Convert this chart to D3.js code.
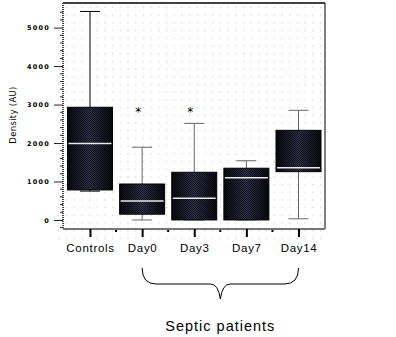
<!DOCTYPE html>
<html><head><meta charset="utf-8">
<script src="https://cdn.jsdelivr.net/npm/d3@7"></script>
<style>body{margin:0;background:#fff}svg{display:block}</style>
</head><body>
<svg id="c" width="396" height="337"></svg>
<script>
const categories = ["Controls","Day0","Day3","Day7","Day14"];
const whiskerLow  = [750, 0, 0, 0, 30];
const q1          = [780, 150, 0, 0, 1255];
const medians     = [1990, 490, 565, 1100, 1360];
const q3          = [2930, 935, 1240, 1345, 2330];
const whiskerHigh = [5420, 1890, 2510, 1540, 2850];
const starred     = [false, true, true, false, false];
const yTicks      = [0,1000,2000,3000,4000,5000];
const groupLabel  = "Septic patients";
const yTitle      = "Density (AU)";

const svg = d3.select("#c");
const L=63, R=325, T=3, B=229;
const y = d3.scaleLinear().domain([-235, 5640]).range([B, T]);
const x = d3.scalePoint().domain(categories).range([90, 298.5]);
const defs = svg.append("defs");
const pat = defs.append("pattern").attr("id","dots").attr("patternUnits","userSpaceOnUse")
  .attr("width",7.7).attr("height",7.7).attr("x",L).attr("y",T+1);
pat.append("rect").attr("x",3).attr("y",3).attr("width",1).attr("height",1).attr("fill","#b8b8b8");
const grad = defs.append("linearGradient").attr("id","boxg").attr("x1","0").attr("x2","1").attr("y1","0").attr("y2","0");
grad.append("stop").attr("offset","0").attr("stop-color","#0a0a10");
grad.append("stop").attr("offset","0.5").attr("stop-color","#30304a");
grad.append("stop").attr("offset","1").attr("stop-color","#0a0a10");
const dith = defs.append("pattern").attr("id","dith").attr("patternUnits","userSpaceOnUse").attr("width",2).attr("height",2);
dith.append("rect").attr("width",1).attr("height",1).attr("fill","#000").attr("opacity",0.5);
dith.append("rect").attr("x",1).attr("y",1).attr("width",1).attr("height",1).attr("fill","#000").attr("opacity",0.5);

svg.append("rect").attr("x",L-6).attr("y",T).attr("width",R-L+8).attr("height",B-T+12).attr("fill","url(#dots)");
svg.append("line").attr("x1",L).attr("x2",R).attr("y1",T).attr("y2",T).attr("stroke","#000").attr("stroke-width",1.5);
svg.append("line").attr("x1",R).attr("x2",R).attr("y1",T).attr("y2",B).attr("stroke","#000").attr("stroke-width",1);

const yAxis = d3.axisLeft(y).tickValues(yTicks).tickSize(9).tickFormat(d=>d);
const ga = svg.append("g").attr("transform",`translate(${L},0)`).call(yAxis);
ga.select(".domain").attr("d",`M0,${T}V${B}`).attr("stroke","#444").attr("stroke-width",2).attr("stroke-dasharray","1,1");
ga.selectAll(".tick line").attr("stroke","#222").attr("stroke-width",1);
ga.selectAll(".tick text").attr("font-family","DejaVu Sans").attr("font-weight","bold").attr("font-size",6.5)
  .attr("letter-spacing",1.2).attr("x",-13).attr("fill","#000");
const minor = d3.range(-200, 5600, 200).filter(v=>v%1000!==0);
svg.append("g").selectAll("line").data(minor).join("line")
  .attr("x1",L-3).attr("x2",L).attr("y1",d=>y(d)).attr("y2",d=>y(d)).attr("stroke","#222");

svg.append("line").attr("x1",L).attr("x2",R).attr("y1",B).attr("y2",B).attr("stroke","#777").attr("stroke-width",2);
const xAxis = d3.axisBottom(x).tickSize(8).tickSizeOuter(0);
const gx = svg.append("g").attr("transform",`translate(0,${B})`).call(xAxis);
gx.select(".domain").remove();
gx.selectAll(".tick line").attr("stroke","#000").attr("stroke-width",2);
gx.selectAll(".tick text").attr("font-family","Liberation Sans, Arial").attr("font-size",11.5)
  .attr("letter-spacing",0.7).attr("dy",12).attr("fill","#000");
const mids = categories.slice(1).map((c,i)=>(x(c)+x(categories[i]))/2);
svg.append("g").selectAll("rect").data(mids).join("rect")
  .attr("x",d=>d-1).attr("y",B+1).attr("width",2).attr("height",2).attr("fill","#000");

const bw = 45, cw = 20;
const g = svg.append("g").selectAll("g").data(categories).join("g");
g.append("line").attr("x1",c=>x(c)).attr("x2",c=>x(c))
  .attr("y1",(c,i)=>y(whiskerHigh[i])).attr("y2",(c,i)=>y(whiskerLow[i]))
  .attr("stroke",(c,i)=>i===0?"#000":"#666").attr("stroke-width",1);
g.append("line").attr("x1",c=>x(c)-cw/2).attr("x2",c=>x(c)+cw/2)
  .attr("y1",(c,i)=>y(whiskerHigh[i])).attr("y2",(c,i)=>y(whiskerHigh[i]))
  .attr("stroke",(c,i)=>i===0?"#000":"#666");
g.append("line").attr("x1",c=>x(c)-cw/2).attr("x2",c=>x(c)+cw/2)
  .attr("y1",(c,i)=>y(whiskerLow[i])).attr("y2",(c,i)=>y(whiskerLow[i]))
  .attr("stroke",(c,i)=>i===0?"#000":"#666");
g.append("rect").attr("x",c=>x(c)-bw/2).attr("width",bw)
  .attr("y",(c,i)=>y(q3[i])).attr("height",(c,i)=>y(q1[i])-y(q3[i]))
  .attr("fill","url(#boxg)").attr("stroke","#050508").attr("stroke-width",1);
g.append("rect").attr("x",c=>x(c)-bw/2).attr("width",bw)
  .attr("y",(c,i)=>y(q3[i])).attr("height",(c,i)=>y(q1[i])-y(q3[i]))
  .attr("fill","url(#dith)");
g.append("line").attr("x1",c=>x(c)-bw/2+1).attr("x2",c=>x(c)+bw/2-1)
  .attr("y1",(c,i)=>y(medians[i])).attr("y2",(c,i)=>y(medians[i]))
  .attr("stroke","#e8e8e8").attr("stroke-width",1.5);
g.filter((c,i)=>starred[i]).append("text").attr("x",c=>x(c)-4).attr("y",116)
  .attr("text-anchor","middle").attr("font-family","DejaVu Sans").attr("font-size",12)
  .attr("fill","#000").text("*");

svg.append("text").attr("transform","translate(16,115) rotate(-90)").attr("text-anchor","middle")
  .attr("font-family","DejaVu Sans").attr("font-size",8.5).attr("letter-spacing",0.3).text(yTitle);

const x0 = x("Day0"), x1 = x("Day14"), xm = (x0+x1)/2;
const br = d3.path();
br.moveTo(x0, 268); br.quadraticCurveTo(x0, 284, x0+14, 284);
br.lineTo(xm-10, 284); br.quadraticCurveTo(xm-2, 284, xm, 299);
br.quadraticCurveTo(xm+2, 284, xm+10, 284);
br.lineTo(x1-14, 284); br.quadraticCurveTo(x1, 284, x1, 268);
svg.append("path").attr("d",br.toString()).attr("fill","none").attr("stroke","#000").attr("stroke-width",1);
svg.append("text").attr("x",xm).attr("y",331).attr("text-anchor","middle")
  .attr("font-family","Liberation Sans, Arial").attr("font-size",14.5).attr("letter-spacing",1)
  .text(groupLabel);
</script>
</body></html>
